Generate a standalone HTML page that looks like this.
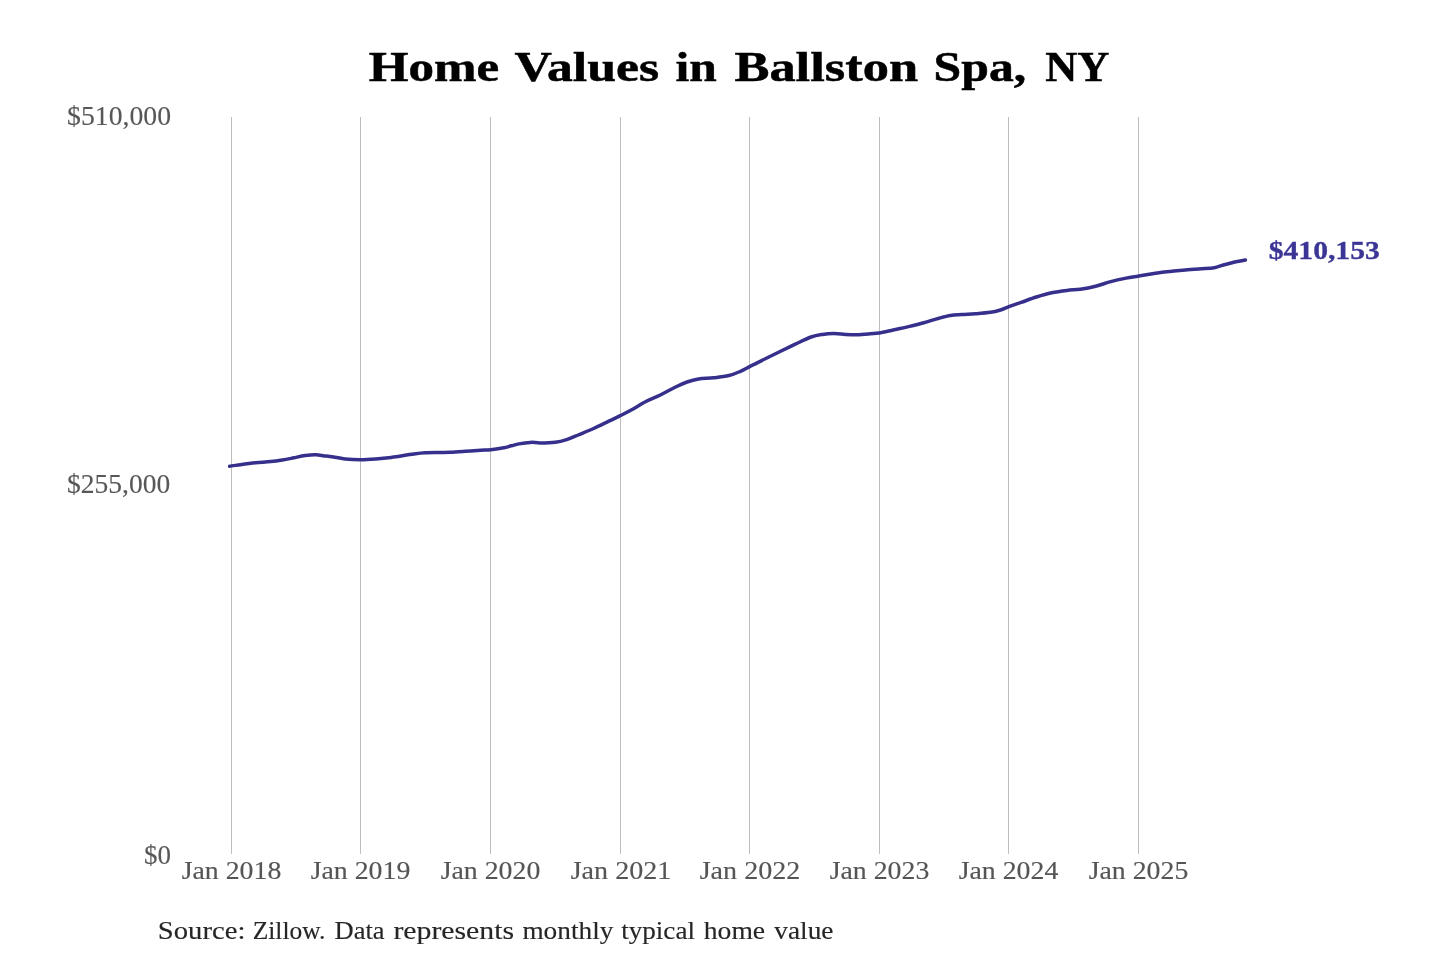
<!DOCTYPE html>
<html><head><meta charset="utf-8"><style>
html,body{margin:0;padding:0;background:#fff;width:1440px;height:960px;overflow:hidden}
svg{display:block;will-change:transform}
text{font-family:"Liberation Serif",serif}
</style></head><body>
<svg width="1440" height="960" viewBox="0 0 1440 960">
<rect width="1440" height="960" fill="#fff"/>
<g stroke="#bdbdbd" stroke-width="1"><line x1="231.5" y1="117" x2="231.5" y2="854"/><line x1="360.5" y1="117" x2="360.5" y2="854"/><line x1="490.5" y1="117" x2="490.5" y2="854"/><line x1="620.5" y1="117" x2="620.5" y2="854"/><line x1="749.5" y1="117" x2="749.5" y2="854"/><line x1="879.5" y1="117" x2="879.5" y2="854"/><line x1="1008.5" y1="117" x2="1008.5" y2="854"/><line x1="1138.5" y1="117" x2="1138.5" y2="854"/></g>
<path d="M229.6,466.2 C231.4,466.0 236.0,465.3 240.3,464.7 C244.6,464.1 250.5,463.3 255.6,462.8 C260.7,462.3 266.4,462.1 270.8,461.6 C275.2,461.2 278.5,460.7 282.3,460.1 C286.1,459.5 290.0,458.6 293.8,457.8 C297.6,457.0 301.5,456.0 305.2,455.5 C308.9,455.0 312.7,454.6 315.9,454.7 C319.1,454.8 321.9,455.6 324.3,455.9 C326.7,456.2 326.5,455.9 330.0,456.4 C333.5,456.9 340.2,458.4 345.3,458.9 C350.4,459.5 355.5,459.7 360.6,459.7 C365.7,459.7 370.7,459.3 375.8,458.9 C380.9,458.5 386.0,458.0 391.1,457.4 C396.2,456.8 402.6,455.7 406.4,455.1 C410.2,454.5 410.8,454.3 414.0,453.9 C417.2,453.5 421.2,453.0 425.5,452.8 C429.8,452.6 435.9,452.6 440.0,452.5 C444.1,452.4 446.0,452.5 450.3,452.3 C454.6,452.1 460.5,451.6 465.6,451.2 C470.7,450.9 476.6,450.5 480.8,450.2 C485.0,450.0 487.0,450.1 490.8,449.7 C494.6,449.3 500.4,448.5 503.8,447.8 C507.2,447.1 508.9,446.4 511.4,445.8 C513.9,445.2 515.8,444.5 519.0,443.9 C522.2,443.3 527.0,442.6 530.5,442.4 C534.0,442.2 535.9,442.9 540.0,442.9 C544.1,442.9 550.8,442.8 555.3,442.2 C559.8,441.7 562.9,440.8 566.7,439.6 C570.5,438.4 573.7,436.9 578.2,435.0 C582.7,433.1 588.4,430.8 593.5,428.5 C598.6,426.2 604.4,423.3 608.8,421.2 C613.2,419.1 616.0,417.8 619.8,415.9 C623.6,414.0 627.5,412.1 631.7,409.8 C635.9,407.5 640.2,404.5 645.0,402.0 C649.8,399.5 655.2,397.5 660.3,395.0 C665.4,392.5 671.1,389.2 675.6,387.0 C680.1,384.8 683.2,383.4 687.0,382.0 C690.8,380.6 694.0,379.6 698.5,378.9 C703.0,378.2 708.7,378.4 713.8,377.8 C718.9,377.2 724.5,376.6 729.0,375.5 C733.5,374.4 737.0,372.8 740.5,371.3 C744.0,369.8 745.9,368.5 750.0,366.4 C754.1,364.3 760.2,361.3 765.3,358.8 C770.4,356.3 775.5,353.7 780.6,351.2 C785.7,348.7 790.7,346.3 795.8,343.9 C800.9,341.5 806.6,338.6 811.1,337.0 C815.6,335.4 818.8,335.0 822.6,334.4 C826.4,333.8 830.2,333.6 834.0,333.6 C837.8,333.6 841.7,334.2 845.5,334.4 C849.3,334.6 852.9,334.8 857.0,334.7 C861.1,334.6 866.6,334.1 870.3,333.8 C874.0,333.5 875.3,333.7 879.1,333.1 C882.9,332.5 888.3,331.1 893.2,330.0 C898.1,328.9 903.4,327.8 908.5,326.6 C913.6,325.4 918.7,324.2 923.8,322.8 C928.9,321.4 934.5,319.4 939.0,318.2 C943.5,317.0 946.7,316.1 950.5,315.5 C954.3,314.9 957.9,314.9 962.0,314.6 C966.1,314.3 970.5,314.2 975.3,313.8 C980.1,313.4 986.4,312.9 990.6,312.3 C994.8,311.7 997.5,310.9 1000.5,310.0 C1003.5,309.1 1005.5,307.9 1008.9,306.6 C1012.3,305.3 1016.5,304.0 1021.1,302.4 C1025.7,300.8 1031.3,298.6 1036.4,297.0 C1041.5,295.4 1046.6,293.9 1051.7,292.8 C1056.8,291.7 1062.2,291.0 1067.0,290.4 C1071.8,289.8 1075.5,289.9 1080.3,289.2 C1085.1,288.5 1090.5,287.5 1095.6,286.2 C1100.7,284.9 1105.7,283.0 1110.8,281.6 C1115.9,280.2 1121.6,279.0 1126.1,278.1 C1130.6,277.2 1134.2,276.8 1138.0,276.2 C1141.8,275.6 1144.6,275.0 1149.0,274.3 C1153.4,273.6 1160.1,272.5 1164.3,272.0 C1168.5,271.5 1170.0,271.5 1173.9,271.1 C1177.8,270.7 1183.2,270.2 1187.8,269.8 C1192.4,269.4 1197.3,269.1 1201.7,268.7 C1206.1,268.4 1210.7,268.3 1214.2,267.7 C1217.7,267.1 1219.4,266.2 1222.5,265.3 C1225.6,264.4 1229.1,263.4 1232.9,262.5 C1236.7,261.6 1243.3,260.4 1245.4,260.0" fill="none" stroke="#36308c" stroke-width="3.5" stroke-linecap="round" stroke-linejoin="round"/>
<text x="368.80" y="81.3" font-size="42" font-weight="bold" fill="#000" stroke="#000" stroke-width="0.5" textLength="130.30" lengthAdjust="spacingAndGlyphs">Home</text>
<text x="514.40" y="81.3" font-size="42" font-weight="bold" fill="#000" stroke="#000" stroke-width="0.5" textLength="144.70" lengthAdjust="spacingAndGlyphs">Values</text>
<text x="675.60" y="81.3" font-size="42" font-weight="bold" fill="#000" stroke="#000" stroke-width="0.5" textLength="41.30" lengthAdjust="spacingAndGlyphs">in</text>
<text x="734.40" y="81.3" font-size="42" font-weight="bold" fill="#000" stroke="#000" stroke-width="0.5" textLength="183.70" lengthAdjust="spacingAndGlyphs">Ballston</text>
<text x="933.60" y="81.3" font-size="42" font-weight="bold" fill="#000" stroke="#000" stroke-width="0.5" textLength="92.60" lengthAdjust="spacingAndGlyphs">Spa,</text>
<text x="1045.20" y="81.3" font-size="42" font-weight="bold" fill="#000" stroke="#000" stroke-width="0.5" textLength="64.10" lengthAdjust="spacingAndGlyphs">NY</text>
<text x="67.10" y="124.6" font-size="27" fill="#575757" stroke="#575757" stroke-width="0.12" textLength="103.90" lengthAdjust="spacingAndGlyphs">$510,000</text>
<text x="67.10" y="492.5" font-size="27" fill="#575757" stroke="#575757" stroke-width="0.12" textLength="103.10" lengthAdjust="spacingAndGlyphs">$255,000</text>
<text x="144.00" y="863.6" font-size="27" fill="#575757" stroke="#575757" stroke-width="0.12" textLength="27.00" lengthAdjust="spacingAndGlyphs">$0</text>
<text x="181.70" y="879.4" font-size="26" fill="#555" stroke="#555" stroke-width="0.15" textLength="99.60" lengthAdjust="spacingAndGlyphs">Jan 2018</text>
<text x="310.70" y="879.4" font-size="26" fill="#555" stroke="#555" stroke-width="0.15" textLength="99.60" lengthAdjust="spacingAndGlyphs">Jan 2019</text>
<text x="440.70" y="879.4" font-size="26" fill="#555" stroke="#555" stroke-width="0.15" textLength="99.60" lengthAdjust="spacingAndGlyphs">Jan 2020</text>
<text x="570.70" y="879.4" font-size="26" fill="#555" stroke="#555" stroke-width="0.15" textLength="100.60" lengthAdjust="spacingAndGlyphs">Jan 2021</text>
<text x="699.70" y="879.4" font-size="26" fill="#555" stroke="#555" stroke-width="0.15" textLength="100.60" lengthAdjust="spacingAndGlyphs">Jan 2022</text>
<text x="829.70" y="879.4" font-size="26" fill="#555" stroke="#555" stroke-width="0.15" textLength="99.60" lengthAdjust="spacingAndGlyphs">Jan 2023</text>
<text x="958.70" y="879.4" font-size="26" fill="#555" stroke="#555" stroke-width="0.15" textLength="99.60" lengthAdjust="spacingAndGlyphs">Jan 2024</text>
<text x="1088.70" y="879.4" font-size="26" fill="#555" stroke="#555" stroke-width="0.15" textLength="99.60" lengthAdjust="spacingAndGlyphs">Jan 2025</text>
<text x="1268.70" y="258.7" font-size="25" font-weight="bold" fill="#3b3596" stroke="#3b3596" stroke-width="0.3" textLength="111.10" lengthAdjust="spacingAndGlyphs">$410,153</text>
<text x="157.80" y="939.0" font-size="26" fill="#262626" stroke="#262626" stroke-width="0.15" textLength="87.60" lengthAdjust="spacingAndGlyphs">Source:</text>
<text x="252.70" y="939.0" font-size="26" fill="#262626" stroke="#262626" stroke-width="0.15" textLength="72.60" lengthAdjust="spacingAndGlyphs">Zillow.</text>
<text x="334.60" y="939.0" font-size="26" fill="#262626" stroke="#262626" stroke-width="0.15" textLength="50.00" lengthAdjust="spacingAndGlyphs">Data</text>
<text x="393.40" y="939.0" font-size="26" fill="#262626" stroke="#262626" stroke-width="0.15" textLength="120.70" lengthAdjust="spacingAndGlyphs">represents</text>
<text x="522.40" y="939.0" font-size="26" fill="#262626" stroke="#262626" stroke-width="0.15" textLength="91.00" lengthAdjust="spacingAndGlyphs">monthly</text>
<text x="621.20" y="939.0" font-size="26" fill="#262626" stroke="#262626" stroke-width="0.15" textLength="73.80" lengthAdjust="spacingAndGlyphs">typical</text>
<text x="703.80" y="939.0" font-size="26" fill="#262626" stroke="#262626" stroke-width="0.15" textLength="61.30" lengthAdjust="spacingAndGlyphs">home</text>
<text x="774.20" y="939.0" font-size="26" fill="#262626" stroke="#262626" stroke-width="0.15" textLength="59.30" lengthAdjust="spacingAndGlyphs">value</text>
</svg>
</body></html>
